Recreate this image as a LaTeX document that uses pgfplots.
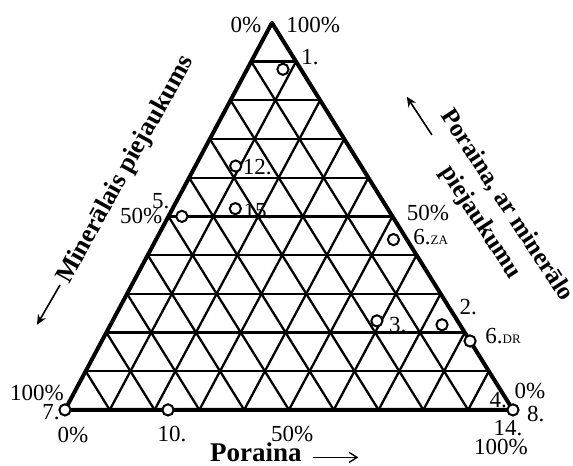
\documentclass[border=0pt]{standalone}
\usepackage{fontspec}
\setmainfont{Liberation Serif}
\usepackage{pgfplots}
\usepackage{pgfplotstable}
\pgfplotsset{compat=1.18}
\usetikzlibrary{arrows.meta}

% ternary points: P = Poraina (bottom), T = Poraina ar mineralo piejaukumu (top)
\pgfplotstableread{
P T
8 88
9 63
14 52
3 50
53 44
74 22
59 23
82.2 17.8
0 0
100 0
23 0
}\pts

% shape of the (slightly skewed) triangle of the original
\def\ka{0.462}
\def\kb{0.864}

\begin{document}
\begin{tikzpicture}[lab/.style={font=\fontsize{11.5}{13}\selectfont, inner sep=0pt},
  ttl/.style={font=\fontsize{13}{16}\selectfont\bfseries, inner sep=0pt, overlay}]
\begin{axis}[
  x=2.24pt, y=2.24pt,
  xmin=-14.5, xmax=113.4, ymin=-12.3, ymax=91.5,
  axis line style={draw=none},
  xtick=\empty, ytick=\empty,
  clip=false,
]
% grid lines every 10 %
\pgfplotsinvokeforeach{10,20,30,40,50,60,70,80,90}{
  \draw[line width=1.15pt] (axis cs:{\ka*#1},{\kb*#1}) -- (axis cs:{100-#1+\ka*#1},{\kb*#1});
  \draw[line width=1.15pt] (axis cs:#1,0) -- (axis cs:{#1+\ka*(100-#1)},{\kb*(100-#1)});
  \draw[line width=1.15pt] (axis cs:{100-#1},0) -- (axis cs:{\ka*(100-#1)},{\kb*(100-#1)});
}
% triangle border
\draw[line width=2pt, line join=round] (axis cs:0,0) -- (axis cs:100,0) -- (axis cs:{100*\ka},{100*\kb}) -- cycle;

\addplot[only marks, mark=*, mark size=2.8pt,
  mark options={fill=white, draw=black, line width=1pt}]
  table[x expr=\thisrow{P}+\ka*\thisrow{T}, y expr=\kb*\thisrow{T}] {\pts};

% corner / scale labels
\node[lab] at (axis cs:40.4,85.9) {0\%};
\node[lab] at (axis cs:55.4,85.9) {100\%};
\node[lab] at (axis cs:-6.25,3.8) {100\%};
\node[lab] at (axis cs:1.8,-5.6) {0\%};
\node[lab] at (axis cs:50.7,-5.4) {50\%};
\node[lab] at (axis cs:17.0,43.3) {50\%};
\node[lab] at (axis cs:81.0,44.0) {50\%};
\node[lab] at (axis cs:103.8,4.2) {0\%};
\node[lab] at (axis cs:97.3,-8.3) {100\%};

% point labels
\node[lab] at (axis cs:54.7,78.8) {1.};
\node[lab] at (axis cs:-3.1,-0.45) {7.};
\node[lab] at (axis cs:23.9,-5.4) {10.};
\node[lab] at (axis cs:21.4,46.7) {5.};
\node[lab] at (axis cs:42.9,54.2) {12.};
\node[lab] at (axis cs:43.1,44.4) {15.};
\node[lab, anchor=west] at (axis cs:77.7,38.6) {6.{\fontsize{6.5}{7}\selectfont ZA}};
\node[lab] at (axis cs:90.0,23.0) {2.};
\node[lab] at (axis cs:74.3,19.0) {3.};
\node[lab, anchor=west] at (axis cs:93.75,16.4) {6.{\fontsize{6.5}{7}\selectfont DR}};
\node[lab] at (axis cs:96.7,2.2) {4.};
\node[lab] at (axis cs:105.1,-0.9) {8.};
\node[lab] at (axis cs:98.9,-4.0) {14.};

% axis titles
\node[ttl, font=\fontsize{13.5}{16}\selectfont\bfseries, anchor=base] at (axis cs:42.6,-11.6) {Poraina};
\draw[line width=0.7pt, -{Straight Barb[length=4pt,width=5pt]}] (axis cs:55.4,-10.6) -- (axis cs:65.5,-10.6);
\node[ttl, rotate=61] at (axis cs:13.6,53.6) {Minerālais piejaukums};
\node[ttl, font=\fontsize{12.5}{15.5}\selectfont\bfseries, rotate=-57, align=center] at (axis cs:95.6,43.7) {Poraina, ar minerālo\\piejaukumu};
\draw[line width=0.8pt, -{Stealth[length=5pt,width=4.5pt]}] (axis cs:-1.1,27.9) -- (axis cs:-6.25,19.0);
\draw[line width=0.8pt, -{Stealth[length=5pt,width=4.5pt]}] (axis cs:81.9,61.4) -- (axis cs:76.3,69.9);
\end{axis}
\end{tikzpicture}
\end{document}
